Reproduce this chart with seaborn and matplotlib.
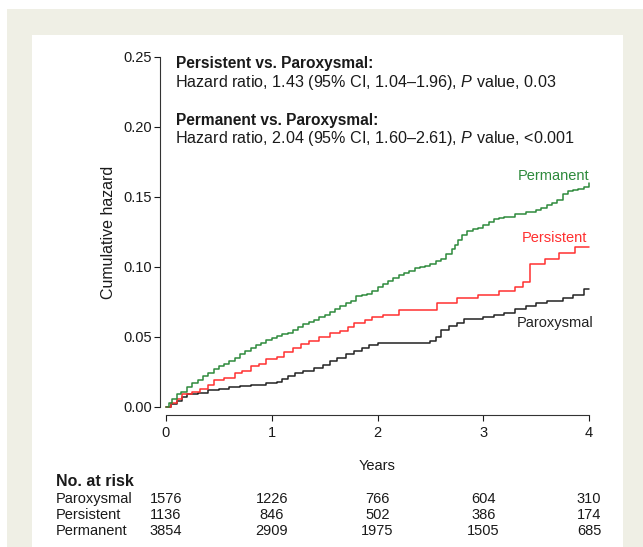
import matplotlib
matplotlib.use("Agg")
import matplotlib.pyplot as plt
import matplotlib.transforms as mtransforms
from matplotlib.patches import Rectangle
import seaborn as sns

# cumulative hazard curves: (years, hazard)
paroxysmal = [(0, 0), (0.05, 0.002), (0.1, 0.004), (0.15, 0.007), (0.2, 0.009), (0.3, 0.010),
              (0.4, 0.012), (0.5, 0.013), (0.6, 0.014), (0.7, 0.015), (0.8, 0.016), (0.95, 0.017),
              (1.05, 0.018), (1.1, 0.020), (1.15, 0.022), (1.22, 0.024), (1.3, 0.026), (1.4, 0.028),
              (1.48, 0.030), (1.55, 0.033), (1.62, 0.035), (1.7, 0.038), (1.78, 0.040), (1.85, 0.042),
              (1.92, 0.044), (2.0, 0.046), (2.5, 0.047), (2.55, 0.050), (2.6, 0.055), (2.68, 0.058),
              (2.75, 0.060), (2.82, 0.063), (3.0, 0.064), (3.1, 0.066), (3.2, 0.067), (3.3, 0.070),
              (3.4, 0.072), (3.5, 0.074), (3.6, 0.076), (3.75, 0.078), (3.85, 0.080), (3.95, 0.084),
              (4.0, 0.084)]
persistent = [(0, 0), (0.05, 0.003), (0.1, 0.006), (0.15, 0.009), (0.25, 0.011), (0.32, 0.013),
              (0.4, 0.016), (0.45, 0.019), (0.55, 0.021), (0.65, 0.024), (0.72, 0.026), (0.8, 0.029),
              (0.88, 0.031), (0.95, 0.034), (1.05, 0.036), (1.12, 0.039), (1.2, 0.042), (1.28, 0.045),
              (1.35, 0.047), (1.45, 0.050), (1.55, 0.053), (1.65, 0.054), (1.72, 0.057), (1.78, 0.060),
              (1.88, 0.062), (1.95, 0.064), (2.05, 0.066), (2.2, 0.069), (2.56, 0.074), (2.75, 0.078),
              (2.95, 0.080), (3.15, 0.083), (3.3, 0.086), (3.38, 0.089), (3.44, 0.102), (3.58, 0.106),
              (3.72, 0.110), (3.87, 0.114), (4.0, 0.114)]
permanent = [(0, 0), (0.03, 0.003), (0.06, 0.006), (0.1, 0.009), (0.14, 0.011), (0.2, 0.014),
             (0.25, 0.017), (0.3, 0.019), (0.35, 0.022), (0.4, 0.024), (0.45, 0.027), (0.5, 0.029),
             (0.55, 0.031), (0.6, 0.033), (0.65, 0.035), (0.7, 0.038), (0.75, 0.040), (0.8, 0.042),
             (0.85, 0.044), (0.9, 0.046), (0.95, 0.048), (1.0, 0.049), (1.05, 0.051), (1.1, 0.052),
             (1.15, 0.053), (1.2, 0.055), (1.25, 0.057), (1.3, 0.059), (1.35, 0.061), (1.4, 0.062),
             (1.45, 0.064), (1.5, 0.066), (1.55, 0.068), (1.6, 0.070), (1.65, 0.072), (1.7, 0.074),
             (1.75, 0.076), (1.8, 0.079), (1.85, 0.080), (1.9, 0.081), (1.95, 0.083), (2.0, 0.086),
             (2.05, 0.088), (2.1, 0.090), (2.15, 0.092), (2.2, 0.094), (2.25, 0.096), (2.3, 0.097),
             (2.35, 0.099), (2.4, 0.100), (2.45, 0.101), (2.5, 0.102), (2.55, 0.104), (2.6, 0.106),
             (2.65, 0.109), (2.7, 0.113), (2.73, 0.116), (2.76, 0.119), (2.8, 0.123), (2.85, 0.126),
             (2.9, 0.127), (2.95, 0.128), (3.0, 0.130), (3.05, 0.132), (3.1, 0.134), (3.15, 0.135),
             (3.2, 0.136), (3.3, 0.138), (3.4, 0.139), (3.5, 0.141), (3.55, 0.142), (3.6, 0.144),
             (3.65, 0.146), (3.7, 0.148), (3.75, 0.152), (3.8, 0.154), (3.85, 0.155), (3.9, 0.156),
             (3.95, 0.157), (4.0, 0.160)]

group_names = ["Paroxysmal", "Persistent", "Permanent"]
group_colors = ["#222222", "#ff3030", "#2e8a3c"]

# numbers at risk
risk_years = [0, 1, 2, 3, 4]
risk_paroxysmal = [1576, 1226, 766, 604, 310]
risk_persistent = [1136, 846, 502, 386, 174]
risk_permanent = [3854, 2909, 1975, 1505, 685]

x_ticks = [0, 1, 2, 3, 4]
y_ticks = [0.00, 0.05, 0.10, 0.15, 0.20, 0.25]

sns.set_style("ticks")
plt.rcParams["font.family"] = ["Liberation Sans", "DejaVu Sans"]
plt.rcParams["mathtext.fontset"] = "custom"
plt.rcParams["mathtext.it"] = "Liberation Sans:italic"
plt.rcParams["mathtext.rm"] = "Liberation Sans"

W, H = 643, 547
fig = plt.figure(figsize=(W / 100, H / 100), dpi=100)
fig.patch.set_facecolor("white")
# beige frame + white panel
fig.patches.append(Rectangle((7 / W, 0), (W - 7) / W, (H - 9) / H, transform=fig.transFigure,
                             facecolor="#efefe5", edgecolor="none", zorder=-2))
fig.patches.append(Rectangle((32 / W, 0), 591 / W, (H - 35) / H, transform=fig.transFigure,
                             facecolor="white", edgecolor="none", zorder=-1))

ax = fig.add_axes([166 / W, (H - 407) / H, 423 / W, 350 / H])
ax.set_facecolor("none")

txt = "#1a1a1a"
for data, name, col in zip([paroxysmal, persistent, permanent], group_names, group_colors):
    xs = [p[0] for p in data]
    ys = [p[1] for p in data]
    sns.lineplot(x=xs, y=ys, ax=ax, color=col, linewidth=1.1, drawstyle="steps-post",
                 estimator=None, sort=False, clip_on=False)

ax.set_xlim(0, 4)
ax.set_ylim(0, 0.25)
ax.set_xticks(x_ticks)
ax.set_xticklabels([str(v) for v in x_ticks])
ax.set_yticks(y_ticks)
ax.set_yticklabels([f"{v:.2f}" for v in y_ticks])
ax.tick_params(colors=txt, labelsize=10.5, length=4, width=0.8)
ax.tick_params(axis="y", pad=2)
ax.tick_params(axis="x", pad=4)
for s in ["top", "right"]:
    ax.spines[s].set_visible(False)
ax.spines["left"].set_position(("outward", 4))
ax.spines["bottom"].set_position(("outward", 6))
for s in ["left", "bottom"]:
    ax.spines[s].set_color("#333333")
    ax.spines[s].set_linewidth(0.8)

ax.set_xlabel("Years", fontsize=10.5, color=txt, labelpad=13)
ax.set_ylabel("Cumulative hazard", fontsize=11.5, color=txt, labelpad=5)

# curve labels
ax.text(4.0, 0.165, "Permanent", color=group_colors[2], fontsize=10.5, ha="right", va="center")
ax.text(3.98, 0.1207, "Persistent", color=group_colors[1], fontsize=10.5, ha="right", va="center")
ax.text(4.04, 0.060, "Paroxysmal", color=group_colors[0], fontsize=10.5, ha="right", va="center")

# hazard ratio annotations
ax.text(0.095, 0.2457, "Persistent vs. Paroxysmal:", fontsize=11.2, fontweight="bold",
        color=txt, va="center")
ax.text(0.085, 0.232, "Hazard ratio, 1.43 (95% CI, 1.04\u20131.96), $\\mathit{P}$ value, 0.03",
        fontsize=11.6, color=txt, va="center")
ax.text(0.095, 0.205, "Permanent vs. Paroxysmal:", fontsize=11.2, fontweight="bold",
        color=txt, va="center")
ax.text(0.085, 0.1915, "Hazard ratio, 2.04 (95% CI, 1.60\u20132.61), $\\mathit{P}$ value, <0.001",
        fontsize=11.6, color=txt, va="center")

# number at risk table
fig.text(56 / W, 1 - 482 / H, "No. at risk", fontsize=11.5, fontweight="bold", color=txt, va="center")
blend = mtransforms.blended_transform_factory(ax.transData, fig.transFigure)
row_y = [499, 515, 531]
for name, counts, py in zip(group_names, [risk_paroxysmal, risk_persistent, risk_permanent], row_y):
    fig.text(56 / W, 1 - py / H, name, fontsize=10.5, color=txt, va="center")
    for yr, n in zip(risk_years, counts):
        ax.text(yr, 1 - py / H, str(n), transform=blend, fontsize=10.5, color=txt,
                ha="center", va="center")

fig.savefig("out.png", dpi=100)
